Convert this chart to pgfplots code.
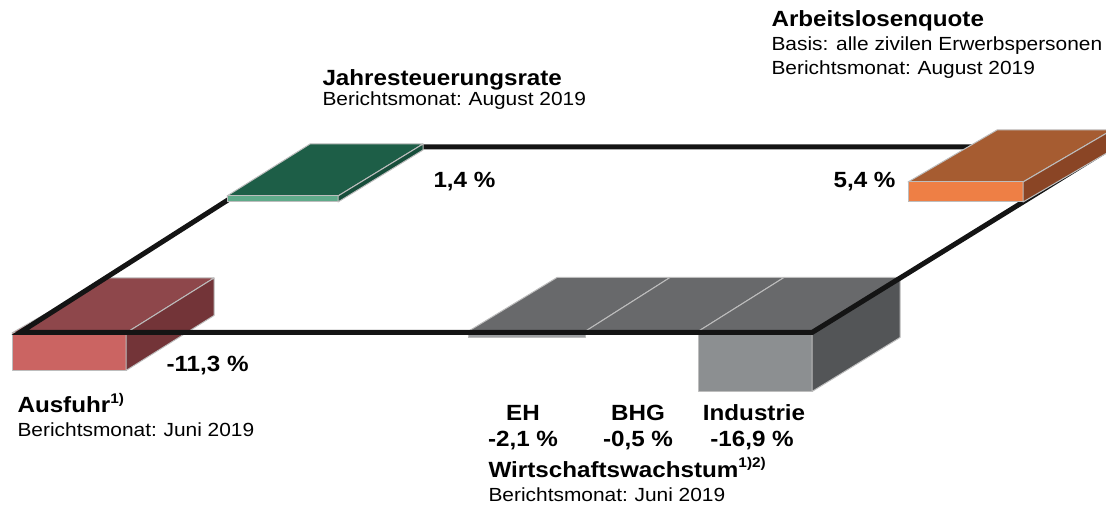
\documentclass[border=0pt]{standalone}
\usepackage{fontspec}
\setmainfont{Liberation Sans}[FakeStretch=1.1]
\usepackage{pgfplots}
\pgfplotsset{compat=1.18}
\definecolor{txt}{HTML}{231F20}
\definecolor{edge}{HTML}{BDBDBD}
\definecolor{ausTop}{HTML}{8E474B}
\definecolor{ausFront}{HTML}{CB6462}
\definecolor{ausRight}{HTML}{733438}
\definecolor{grnTop}{HTML}{1D5E47}
\definecolor{grnFront}{HTML}{5FAA8A}
\definecolor{grnRight}{HTML}{174E3B}
\definecolor{orTop}{HTML}{A65C31}
\definecolor{orFront}{HTML}{EE7F45}
\definecolor{orRight}{HTML}{8A4525}
\definecolor{grTop}{HTML}{68696B}
\definecolor{grFront}{HTML}{8C8F91}
\definecolor{grFrontL}{HTML}{9EA0A2}
\definecolor{grRight}{HTML}{535557}
\newcommand\fb{\fontsize{22}{24}\selectfont\bfseries}
\newcommand\fr{\fontsize{19}{22}\selectfont}
\newcommand\fnsup[1]{\raisebox{0.45em}{\fontsize{14}{15}\selectfont\bfseries #1}}
\begin{document}
\begin{tikzpicture}
\begin{axis}[
  scale only axis, width=1106pt, height=518pt,
  xmin=0, xmax=1106, ymin=0, ymax=518, y dir=reverse,
  axis line style={draw=none}, xtick=\empty, ytick=\empty,
  no markers,
  face/.style={draw=edge, line width=1pt, line join=round},
  every node/.style={text=txt, inner sep=0pt, outer sep=0pt},
]
% --- Ausfuhr box (value -11.3, hangs below plane)
\addplot[face, fill=ausTop]   coordinates {(12,333) (126,333) (214,278) (108,278)} -- cycle;
\addplot[face, fill=ausFront] coordinates {(12,333) (126,333) (126,370.5) (12,370.5)} -- cycle;
\addplot[face, fill=ausRight] coordinates {(126,333) (214,278) (214,315.5) (126,370.5)} -- cycle;
% --- Wirtschaftswachstum boxes (EH -2.1, BHG -0.5, Industrie -16.9)
\addplot[face, fill=grFrontL] coordinates {(468,331.5) (585,331.5) (585,338) (468,338)} -- cycle;
\addplot[face, fill=grFrontL] coordinates {(585,331.5) (698,331.5) (698,333.5) (585,333.5)} -- cycle;
\addplot[face, fill=grFront]  coordinates {(698,331.5) (812,331.5) (812,391.5) (698,391.5)} -- cycle;
\addplot[face, fill=grRight]  coordinates {(812,331.5) (900,277.5) (900,337.5) (812,391.5)} -- cycle;
\addplot[face, fill=grTop]    coordinates {(468,331.5) (585,331.5) (670,277.5) (557,277.5)} -- cycle;
\addplot[face, fill=grTop]    coordinates {(585,331.5) (698,331.5) (784,277.5) (670,277.5)} -- cycle;
\addplot[face, fill=grTop]    coordinates {(698,331.5) (812,331.5) (900,277.5) (784,277.5)} -- cycle;
% --- plane
\addplot[color=black!92, line width=5pt, line join=miter] coordinates {(20,332.5) (311,147) (1112,147) (812,332.5)} -- cycle;
% --- Jahresteuerungsrate box (value 1.4)
\addplot[face, fill=grnTop]   coordinates {(227,196) (338,196) (423,144) (310,144)} -- cycle;
\addplot[face, fill=grnFront] coordinates {(227,196) (338,196) (338,202) (227,202)} -- cycle;
\addplot[face, fill=grnRight] coordinates {(338,196) (423,144) (423,150) (338,202)} -- cycle;
% --- Arbeitslosenquote box (value 5.4)
\addplot[face, fill=orTop]   coordinates {(908,182) (1023,182) (1112,130) (997,130)} -- cycle;
\addplot[face, fill=orFront] coordinates {(908,182) (1023,182) (1023,202) (908,202)} -- cycle;
\addplot[face, fill=orRight] coordinates {(1023,182) (1112,130) (1112,150) (1023,202)} -- cycle;
% --- texts
\node[anchor=base west] at (axis cs:768,26.7) {\fb Arbeitslosenquote};
\node[anchor=base west] at (axis cs:768,50.5) {\fr Basis: alle zivilen Erwerbspersonen};
\node[anchor=base west] at (axis cs:768,75) {\fr Berichtsmonat:\hspace{0.35em}August 2019};
\node[anchor=base west] at (axis cs:319,86) {\fb Jahresteuerungsrate};
\node[anchor=base west] at (axis cs:319,106) {\fr Berichtsmonat:\hspace{0.35em}August 2019};
\node[anchor=base west] at (axis cs:430,187.7) {\fb 1,4 \%};
\node[anchor=base east] at (axis cs:899,187.7) {\fb 5,4 \%};
\node[anchor=base west] at (axis cs:163,371.7) {\fb -11,3 \%};
\node[anchor=base west] at (axis cs:14,413) {\fb Ausfuhr\fnsup{1)}};
\node[anchor=base west] at (axis cs:14,436.7) {\fr Berichtsmonat:\hspace{0.35em}Juni 2019};
\node[anchor=base] at (axis cs:523,420.7) {\fb EH};
\node[anchor=base] at (axis cs:638,420.7) {\fb BHG};
\node[anchor=base] at (axis cs:754,420.7) {\fb Industrie};
\node[anchor=base] at (axis cs:523,446.7) {\fb -2,1 \%};
\node[anchor=base] at (axis cs:638,446.7) {\fb -0,5 \%};
\node[anchor=base] at (axis cs:752,446.7) {\fb -16,9 \%};
\node[anchor=base west] at (axis cs:485,477) {\fb Wirtschaftswachstum\fnsup{1)2)}};
\node[anchor=base west] at (axis cs:485,501.7) {\fr Berichtsmonat:\hspace{0.35em}Juni 2019};
\end{axis}
\end{tikzpicture}
\end{document}
